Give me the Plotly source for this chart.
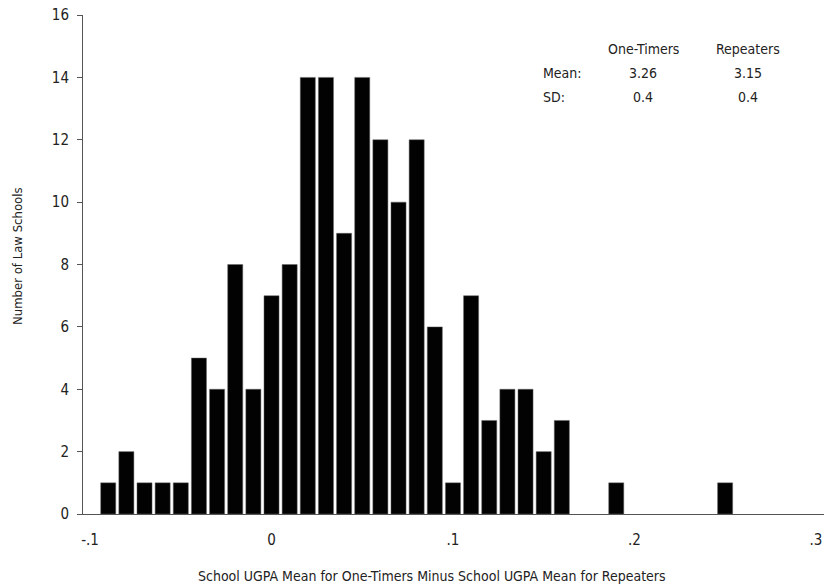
import plotly.graph_objects as go

# Histogram of school-level UGPA mean differences (bin centres, width .01)
bin_centers = [-0.09, -0.08, -0.07, -0.06, -0.05, -0.04, -0.03, -0.02, -0.01,
               0.00, 0.01, 0.02, 0.03, 0.04, 0.05, 0.06, 0.07, 0.08, 0.09,
               0.10, 0.11, 0.12, 0.13, 0.14, 0.15, 0.16, 0.19, 0.25]
school_counts = [1, 2, 1, 1, 1, 5, 4, 8, 4,
                 7, 8, 14, 14, 9, 14, 12, 10, 12, 6,
                 1, 7, 3, 4, 4, 2, 3, 1, 1]

x_tick_vals = [-0.1, 0.0, 0.1, 0.2, 0.3]
x_tick_text = ["-.1", "0", ".1", ".2", ".3"]
y_tick_vals = [0, 2, 4, 6, 8, 10, 12, 14, 16]

groups = ["One-Timers", "Repeaters"]
means = ["3.26", "3.15"]
sds = ["0.4", "0.4"]

FONT = "Liberation Sans Narrow, Arial Narrow, DejaVu Sans Condensed, sans-serif"
TXT = "#222222"
AXIS = "#555555"

W, H = 824, 588
ML, MR, MT, MB = 83, 0, 15, 74
x_range = [-0.1039, 0.3045]

fig = go.Figure(go.Bar(
    x=bin_centers, y=school_counts, width=0.0083,
    marker=dict(color="#020202", line=dict(color="#666666", width=0.5)),
    hoverinfo="x+y",
))

fig.update_layout(
    width=W, height=H,
    margin=dict(l=ML, r=MR, t=MT, b=MB),
    plot_bgcolor="white", paper_bgcolor="white",
    showlegend=False,
    font=dict(family=FONT, size=14, color=TXT),
    xaxis=dict(range=x_range, tickvals=x_tick_vals, ticktext=x_tick_text,
               showgrid=False, zeroline=False, showline=True,
               linecolor=AXIS, linewidth=1, ticks="", ticklabelstandoff=12,
               tickfont=dict(size=15)),
    yaxis=dict(range=[0, 16], tickvals=y_tick_vals, showgrid=False,
               zeroline=False, showline=True, linecolor=AXIS, linewidth=1,
               ticks="outside", ticklen=5, tickcolor=AXIS,
               ticklabelstandoff=5, tickfont=dict(size=15)),
)

# axis titles
fig.add_annotation(text="School UGPA Mean for One-Timers Minus School UGPA Mean for Repeaters",
                   xref="paper", yref="paper",
                   x=(432 - ML) / (W - ML - MR), y=-(576 - (H - MB)) / (H - MT - MB),
                   showarrow=False, xanchor="center", yanchor="middle",
                   font=dict(size=14))
fig.add_annotation(text="Number of Law Schools", textangle=-90,
                   xref="paper", yref="paper",
                   x=-(ML - 18) / (W - ML - MR), y=1 - (256 - MT) / (H - MT - MB),
                   showarrow=False, xanchor="center", yanchor="middle",
                   font=dict(size=13))

# summary statistics table
def px_x(px):
    return (px - ML) / (W - ML - MR)

def px_y(py):
    return 1 - (py - MT) / (H - MT - MB)

col_x = [643, 748]
for cx, g, m, s in zip(col_x, groups, means, sds):
    for py, t in ((49, g), (73, m), (97, s)):
        fig.add_annotation(text=t, xref="paper", yref="paper", x=px_x(cx), y=px_y(py),
                           showarrow=False, xanchor="center", yanchor="middle",
                           font=dict(size=14))
for py, t in ((73, "Mean:"), (97, "SD:")):
    fig.add_annotation(text=t, xref="paper", yref="paper", x=px_x(541), y=px_y(py),
                       showarrow=False, xanchor="left", yanchor="middle",
                       font=dict(size=14))

fig.write_html("out.html")
